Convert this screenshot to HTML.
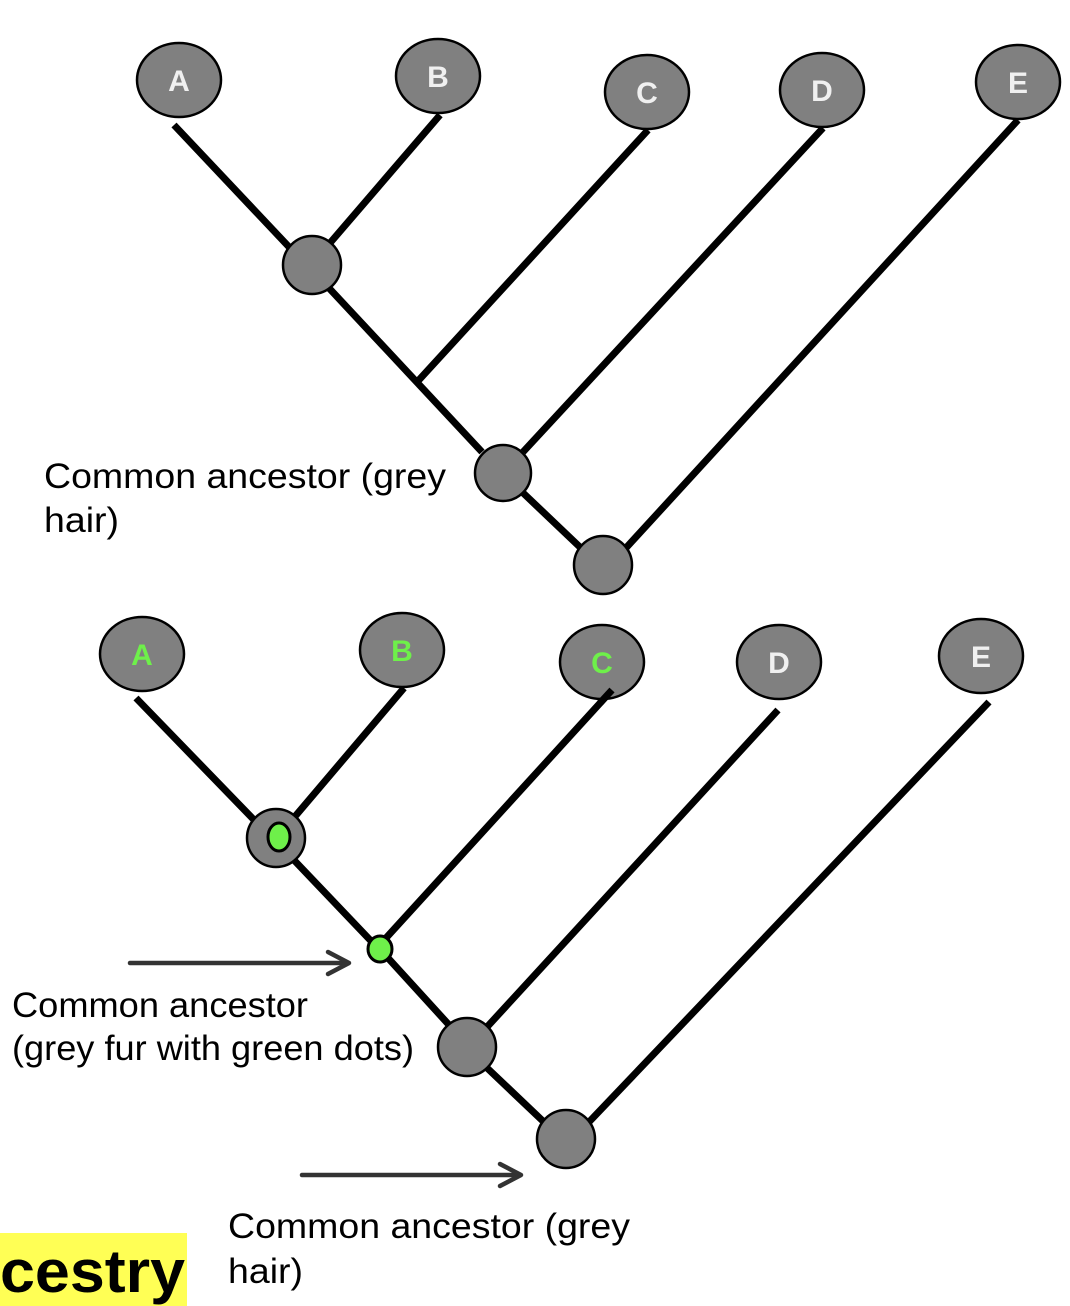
<!DOCTYPE html>
<html><head><meta charset="utf-8"><style>
html,body{margin:0;padding:0;background:#fff;width:1070px;height:1306px;overflow:hidden}
svg{display:block}
text{font-family:"Liberation Sans",Arial,sans-serif}
</style></head><body>
<svg width="1070" height="1306" viewBox="0 0 1070 1306" xmlns="http://www.w3.org/2000/svg">
<g stroke="#000" stroke-width="7" stroke-linecap="butt" fill="none">
<line x1="174" y1="125" x2="290" y2="248"/>
<line x1="440" y1="115" x2="330" y2="243"/>
<line x1="328" y1="287" x2="482" y2="452"/>
<line x1="648" y1="130" x2="418" y2="381"/>
<line x1="823" y1="128" x2="523" y2="452"/>
<line x1="520" y1="490" x2="583" y2="550"/>
<line x1="1018" y1="120" x2="625" y2="549"/>
<line x1="136" y1="698" x2="257" y2="823"/>
<line x1="404" y1="688" x2="292" y2="820"/>
<line x1="292" y1="858" x2="372" y2="942"/>
<line x1="612" y1="690" x2="386" y2="938"/>
<line x1="388" y1="958" x2="450" y2="1026"/>
<line x1="778" y1="710" x2="487" y2="1027"/>
<line x1="485" y1="1066" x2="546" y2="1124"/>
<line x1="989" y1="702" x2="589" y2="1122"/>
</g>
<g fill="#808080" stroke="#000" stroke-width="2.5">
<ellipse cx="179" cy="80" rx="42" ry="37"/>
<ellipse cx="438" cy="76" rx="42" ry="37"/>
<ellipse cx="647" cy="92" rx="42" ry="37"/>
<ellipse cx="822" cy="90" rx="42" ry="37"/>
<ellipse cx="1018" cy="82" rx="42" ry="37"/>
<circle cx="312" cy="265" r="29"/>
<circle cx="503" cy="473" r="28"/>
<circle cx="603" cy="565" r="29"/>
<ellipse cx="142" cy="654" rx="42" ry="37"/>
<ellipse cx="402" cy="650" rx="42" ry="37"/>
<ellipse cx="602" cy="662" rx="42" ry="37"/>
<ellipse cx="779" cy="662" rx="42" ry="37"/>
<ellipse cx="981" cy="656" rx="42" ry="37"/>
<circle cx="276" cy="838" r="29"/>
<circle cx="467" cy="1047" r="29"/>
<circle cx="566" cy="1139" r="29"/>
</g>
<line x1="612" y1="690" x2="600" y2="703" stroke="#000" stroke-width="7"/>
<g fill="#6ef04a" stroke="#000" stroke-width="3">
<ellipse cx="279" cy="837" rx="11" ry="14"/>
<ellipse cx="380" cy="949" rx="12" ry="13"/>
</g>
<g font-weight="bold" font-size="30" text-anchor="middle" fill="#f0f0f0">
<text x="179" y="91">A</text><text x="438" y="87">B</text><text x="647" y="103">C</text><text x="822" y="101">D</text><text x="1018" y="93">E</text>
<text x="142" y="665" fill="#6ef04a">A</text><text x="402" y="661" fill="#6ef04a">B</text><text x="602" y="673" fill="#6ef04a">C</text><text x="779" y="673">D</text><text x="981" y="667">E</text>
</g>
<g stroke="#333" stroke-width="4.5" fill="none" stroke-linecap="round" stroke-linejoin="round">
<line x1="130" y1="963" x2="348" y2="963"/><polyline points="328,952 349,963 328,974"/>
<line x1="302" y1="1175" x2="520" y2="1175"/><polyline points="500,1164 521,1175 500,1186"/>
</g>
<g font-size="35" fill="#000">
<text x="44" y="488" textLength="402" lengthAdjust="spacingAndGlyphs">Common ancestor (grey</text><text x="44" y="532" textLength="75" lengthAdjust="spacingAndGlyphs">hair)</text>
<text x="12" y="1017" textLength="296" lengthAdjust="spacingAndGlyphs">Common ancestor</text><text x="12" y="1060" textLength="402" lengthAdjust="spacingAndGlyphs">(grey fur with green dots)</text>
<text x="228" y="1238" textLength="402" lengthAdjust="spacingAndGlyphs">Common ancestor (grey</text><text x="228" y="1283" textLength="75" lengthAdjust="spacingAndGlyphs">hair)</text>
</g>
<rect x="0" y="1233" width="187" height="73" fill="#ffff55"/>
<text x="0" y="1292" font-size="60" font-weight="bold" fill="#000" textLength="185" lengthAdjust="spacingAndGlyphs">cestry</text>
</svg>
</body></html>
